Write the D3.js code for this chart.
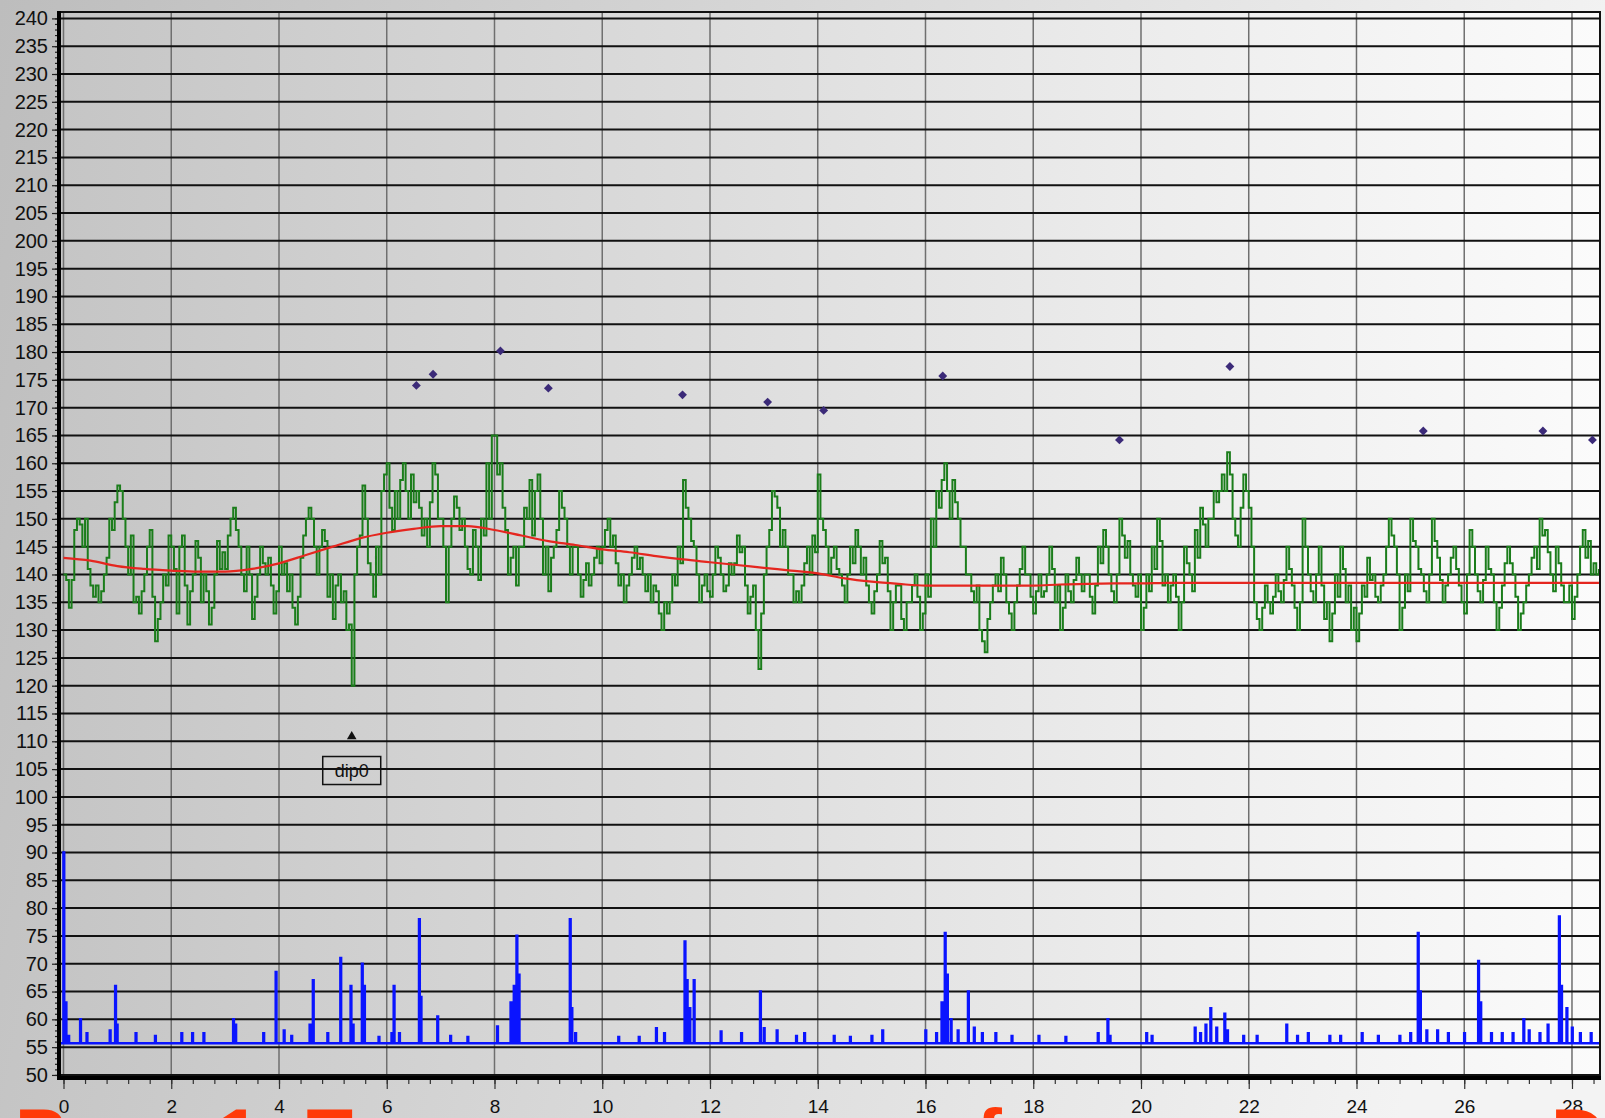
<!DOCTYPE html>
<html>
<head>
<meta charset="utf-8">
<script src="https://cdn.jsdelivr.net/npm/d3@7"></script>
<style>
  html, body { margin: 0; padding: 0; overflow: hidden; }
  svg { display: block; }
</style>
</head>
<body>
<div id="viz"></div>
<script>
const W = 1605, H = 1118;
const plot = { left: 59, right: 1600, top: 12, bottom: 1078 };

// green series, one value every 0.05 from x = 0
const greenStep = 0.05;
const greenVals = [
  140, 139, 134, 139, 148, 150, 149, 145, 150, 141, 138, 136, 138, 135, 137, 140, 143, 150, 148, 153,
  156, 155, 150, 145, 140, 147, 135, 136, 133, 137, 140, 145, 148, 136, 128, 132, 135, 140, 138, 147,
  145, 141, 133, 145, 147, 138, 131, 137, 140, 146, 143, 135, 140, 137, 131, 134, 140, 146, 141, 144,
  141, 147, 150, 152, 148, 145, 140, 137, 145, 140, 132, 136, 140, 145, 142, 140, 143, 138, 133, 137,
  145, 140, 142, 137, 140, 134, 131, 136, 143, 147, 150, 152, 150, 145, 140, 145, 148, 146, 136, 140,
  132, 138, 140, 135, 137, 130, 131, 120, 140, 145, 147, 156, 150, 142, 140, 136, 145, 140, 155, 158,
  160, 152, 148, 155, 150, 157, 160, 155, 150, 158, 153, 155, 152, 147, 150, 145, 153, 160, 158, 150,
  150, 145, 135, 145, 150, 154, 152, 148, 150, 145, 141, 140, 148, 145, 139, 150, 147, 160, 150, 165,
  165, 158, 160, 152, 148, 140, 143, 145, 138, 145, 145, 152, 150, 157, 147, 155, 158, 150, 140, 145,
  137, 143, 145, 148, 155, 152, 150, 145, 140, 145, 145, 140, 136, 139, 142, 138, 140, 143, 145, 142,
  145, 148, 150, 145, 147, 142, 138, 140, 135, 138, 140, 143, 145, 141, 143, 140, 137, 140, 135, 138,
  137, 133, 130, 135, 133, 135, 140, 138, 145, 142, 157, 152, 150, 146, 145, 140, 135, 138, 140, 137,
  136, 140, 145, 143, 140, 137, 138, 142, 140, 142, 147, 144, 145, 138, 133, 136, 138, 130, 123, 133,
  140, 145, 148, 155, 154, 152, 145, 148, 145, 140, 140, 135, 137, 135, 138, 142, 145, 140, 147, 144,
  158, 150, 148, 145, 140, 143, 145, 141, 140, 138, 135, 140, 145, 142, 148, 145, 140, 143, 138, 135,
  133, 137, 140, 146, 142, 143, 137, 130, 135, 138, 138, 132, 130, 135, 135, 138, 140, 136, 130, 133,
  140, 136, 150, 145, 155, 152, 157, 160, 155, 150, 157, 153, 150, 145, 145, 140, 140, 137, 135, 138,
  130, 128, 126, 132, 135, 138, 140, 137, 143, 140, 135, 133, 130, 135, 138, 141, 145, 140, 140, 136,
  133, 137, 140, 136, 137, 140, 145, 141, 135, 138, 130, 134, 140, 137, 135, 139, 143, 140, 137, 140,
  140, 136, 133, 138, 145, 142, 148, 145, 140, 137, 135, 140, 150, 147, 143, 146, 140, 138, 136, 140,
  130, 134, 140, 137, 145, 141, 150, 146, 138, 140, 135, 138, 140, 136, 130, 135, 145, 142, 140, 137,
  148, 143, 152, 149, 145, 150, 150, 155, 153, 155, 158, 155, 162, 158, 150, 147, 145, 152, 158, 155,
  152, 145, 135, 132, 130, 134, 138, 135, 133, 136, 140, 137, 135, 139, 145, 141, 138, 134, 130, 135,
  150, 145, 140, 137, 135, 140, 145, 138, 132, 135, 128, 133, 140, 136, 145, 141, 135, 138, 130, 134,
  128, 133, 138, 136, 143, 139, 140, 136, 135, 138, 140, 145, 150, 147, 145, 140, 130, 134, 140, 137,
  150, 146, 145, 141, 140, 137, 135, 140, 150, 146, 143, 139, 135, 138, 140, 143, 145, 141, 138, 135,
  133, 140, 148, 145, 140, 137, 135, 139, 145, 141, 140, 135, 130, 134, 138, 142, 145, 142, 140, 136,
  130, 133, 135, 138, 140, 143, 145, 141, 150, 147, 148, 144, 140, 137, 145, 142, 138, 135, 135, 138,
  132, 136, 140, 145, 148, 143, 146, 140, 142, 140, 141
];

// red smooth trend, one value every 0.5
const redStep = 0.5;
const redVals = [
  143, 142.5, 141.5, 141, 140.7, 140.5, 140.5, 141, 142, 143.5,
  145, 146.5, 147.5, 148.2, 148.7, 148.7, 148, 147, 146, 145.3,
  144.5, 144, 143.3, 142.7, 142.2, 141.7, 141.2, 140.7, 140.2, 139.3,
  138.7, 138.3, 138, 138, 138, 138, 138, 138.2, 138.3, 138.4,
  138.4, 138.5, 138.5, 138.5, 138.5, 138.5, 138.5, 138.5, 138.5, 138.5,
  138.5, 138.5, 138.5, 138.5, 138.5, 138.5, 138.5, 138.5
];

// blue series: base level plus spikes [x, peak]
const blueBase = 55.7;
const blueSpikes = [
  [0.0, 90], [0.04, 63], [0.09, 57], [0.31, 60], [0.43, 57.5], [0.86, 58], [0.96, 66], [0.99, 59],
  [1.34, 57.5], [1.7, 57], [2.19, 57.5], [2.39, 57.5], [2.6, 57.5], [3.15, 60], [3.19, 59],
  [3.71, 57.5], [3.94, 68.5], [4.09, 58], [4.23, 57], [4.57, 59], [4.63, 67], [4.9, 57.5],
  [5.14, 71], [5.33, 66], [5.37, 59], [5.54, 70], [5.58, 66], [5.85, 56.8], [6.09, 57.5],
  [6.13, 66], [6.23, 57.5], [6.6, 78], [6.63, 64], [6.94, 60.5], [7.18, 57], [7.5, 56.8],
  [8.05, 58.7], [8.3, 63], [8.36, 66], [8.41, 75], [8.45, 68], [9.4, 78], [9.43, 62], [9.5, 57.5],
  [10.3, 56.8], [10.68, 56.8], [11.0, 58.4], [11.15, 57.5], [11.53, 74], [11.57, 67], [11.62, 62],
  [11.7, 67], [12.2, 57.8], [12.58, 57.5], [12.93, 65], [13.0, 58.4], [13.24, 58], [13.6, 57],
  [13.75, 57.5], [14.3, 57], [14.6, 56.8], [15.0, 57], [15.2, 58], [16.0, 58], [16.2, 57.5],
  [16.3, 63], [16.36, 75.5], [16.4, 68], [16.47, 60], [16.6, 58], [16.79, 65], [16.9, 58.5],
  [17.05, 57.5], [17.3, 57.5], [17.6, 57], [18.1, 57], [18.6, 56.8], [19.2, 57.5], [19.38, 60],
  [19.42, 57], [20.1, 57.5], [20.2, 57], [21.0, 58.5], [21.1, 57.5], [21.2, 59], [21.29, 62],
  [21.4, 58.5], [21.55, 61], [21.6, 58], [21.9, 57], [22.15, 57], [22.7, 59], [22.9, 57],
  [23.1, 57.5], [23.5, 57], [23.7, 57], [24.1, 57.5], [24.4, 57], [24.8, 57], [25.0, 57.5],
  [25.14, 75.5], [25.18, 65], [25.3, 58], [25.5, 58], [25.7, 57.5], [26.0, 57.5], [26.26, 70.5],
  [26.3, 63], [26.5, 57.5], [26.7, 57.5], [26.9, 57.5], [27.1, 60], [27.2, 58], [27.4, 57.5],
  [27.55, 59], [27.76, 78.5], [27.8, 66], [27.9, 62], [28.0, 58.5], [28.15, 57.5], [28.35, 57.5]
];

// purple markers
const markX = [6.55, 6.86, 8.11, 9.0, 11.49, 13.07, 14.11, 16.32, 19.6, 21.65, 25.24, 27.46, 28.38];
const markY = [174, 176, 180.2, 173.5, 172.3, 171, 169.5, 175.7, 164.2, 177.4, 165.8, 165.8, 164.2];

// annotation
const dipX = 5.35, dipY = 110.5, dipLabel = 'dip0';

const yTicks = d3.range(50, 241, 5);
const xTicks = d3.range(0, 29, 2);
const titleText = 'Page 1: Two reruns over a few more warm Days';

const x = d3.scaleLinear().domain([-0.0835, 28.52]).range([plot.left, plot.right]);
const y = d3.scaleLinear().domain([49.45, 241.15]).range([plot.bottom, plot.top]);

const svg = d3.select('#viz').append('svg')
  .attr('width', W)
  .attr('height', H)
  .style('font-family', 'Liberation Sans, Arial, sans-serif');

const defs = svg.append('defs');
const pageGrad = defs.append('linearGradient').attr('id', 'pageGrad')
  .attr('x1', '0').attr('y1', '0').attr('x2', '1').attr('y2', '0.15');
pageGrad.append('stop').attr('offset', '0').attr('stop-color', '#bdbdbd');
pageGrad.append('stop').attr('offset', '1').attr('stop-color', '#f3f3f3');
const plotGrad = defs.append('linearGradient').attr('id', 'plotGrad')
  .attr('x1', '0').attr('y1', '0').attr('x2', '1').attr('y2', '0');
plotGrad.append('stop').attr('offset', '0').attr('stop-color', '#c5c5c5');
plotGrad.append('stop').attr('offset', '0.7').attr('stop-color', '#ececec');
plotGrad.append('stop').attr('offset', '1').attr('stop-color', '#fbfbfb');
defs.append('clipPath').attr('id', 'clip').append('rect')
  .attr('x', plot.left).attr('y', plot.top)
  .attr('width', plot.right - plot.left).attr('height', plot.bottom - plot.top);

svg.append('rect').attr('width', W).attr('height', H).attr('fill', 'url(#pageGrad)');
svg.append('rect')
  .attr('x', plot.left).attr('y', plot.top)
  .attr('width', plot.right - plot.left).attr('height', plot.bottom - plot.top)
  .attr('fill', 'url(#plotGrad)');

// grid
svg.append('g').selectAll('line').data(xTicks).join('line')
  .attr('x1', d => x(d)).attr('x2', d => x(d))
  .attr('y1', plot.top).attr('y2', plot.bottom)
  .attr('stroke', '#6f6f6f').attr('stroke-width', 1.5);
svg.append('g').selectAll('line').data(yTicks).join('line')
  .attr('x1', plot.left).attr('x2', plot.right)
  .attr('y1', d => y(d)).attr('y2', d => y(d))
  .attr('stroke', '#111').attr('stroke-width', 2);

const data = svg.append('g').attr('clip-path', 'url(#clip)');

// blue
const bluePts = [[x.domain()[0], blueBase]];
blueSpikes.forEach(s => {
  bluePts.push([s[0], blueBase], [s[0], s[1]], [s[0] + 0.012, s[1]], [s[0] + 0.012, blueBase]);
});
bluePts.push([x.domain()[1], blueBase]);
data.append('path')
  .attr('d', d3.line().x(d => x(d[0])).y(d => y(d[1]))(bluePts))
  .attr('fill', 'none').attr('stroke', '#0a14ff').attr('stroke-width', 2.6);

// green
const greenPts = greenVals.map((v, i) => [i * greenStep, v]);
data.append('path')
  .attr('d', d3.line().curve(d3.curveStepAfter).x(d => x(d[0])).y(d => y(d[1]))(greenPts))
  .attr('fill', 'none').attr('stroke', '#1b7d1b').attr('stroke-width', 2);

// red
const redPts = redVals.map((v, i) => [i * redStep, v]);
data.append('path')
  .attr('d', d3.line().curve(d3.curveMonotoneX).x(d => x(d[0])).y(d => y(d[1]))(redPts))
  .attr('fill', 'none').attr('stroke', '#e5261f').attr('stroke-width', 2.2);

// purple diamonds
data.append('g').selectAll('path').data(markX).join('path')
  .attr('transform', (d, i) => 'translate(' + x(d) + ',' + y(markY[i]) + ')')
  .attr('d', d3.symbol(d3.symbolDiamond2, 50))
  .attr('fill', '#3b2a78');

// dip annotation
data.append('path')
  .attr('transform', 'translate(' + x(dipX) + ',' + (y(dipY) - 2) + ')')
  .attr('d', d3.symbol(d3.symbolTriangle, 40))
  .attr('fill', '#111');
const lab = svg.append('g').attr('transform', 'translate(' + x(dipX) + ',' + (y(dipY) + 32) + ')');
lab.append('rect').attr('x', -29).attr('y', -14).attr('width', 58).attr('height', 28)
  .attr('fill', 'none').attr('stroke', '#111').attr('stroke-width', 1.5);
lab.append('text').attr('text-anchor', 'middle').attr('dy', '0.35em')
  .attr('font-size', 18).attr('fill', '#111').text(dipLabel);

// frame
svg.append('rect')
  .attr('x', plot.left).attr('y', plot.top)
  .attr('width', plot.right - plot.left).attr('height', plot.bottom - plot.top)
  .attr('fill', 'none').attr('stroke', '#111').attr('stroke-width', 2);

// y axis
const yMinor = svg.append('g').attr('transform', 'translate(' + plot.left + ',0)')
  .call(d3.axisLeft(y).tickValues(d3.range(50, 241, 1)).tickSize(4).tickFormat(''));
const yAxis = svg.append('g').attr('transform', 'translate(' + plot.left + ',0)')
  .call(d3.axisLeft(y).tickValues(yTicks).tickSize(7).tickPadding(4));
[yMinor, yAxis].forEach(g => {
  g.select('.domain').remove();
  g.selectAll('line').attr('stroke', '#222').attr('stroke-width', 1.2);
});
yAxis.selectAll('text').attr('font-size', 20).attr('fill', '#111').attr('font-family', 'Liberation Sans, Arial, sans-serif');
svg.append('line').attr('x1', plot.left).attr('x2', plot.left)
  .attr('y1', plot.top - 1).attr('y2', plot.bottom + 2)
  .attr('stroke', '#000').attr('stroke-width', 4);

// x axis
const xMinor = svg.append('g').attr('transform', 'translate(0,' + plot.bottom + ')')
  .call(d3.axisBottom(x).tickValues(d3.range(0, 28.6, 0.4)).tickSize(6).tickFormat(''));
const xAxis = svg.append('g').attr('transform', 'translate(0,' + plot.bottom + ')')
  .call(d3.axisBottom(x).tickValues(xTicks).tickSize(11).tickPadding(11));
[xMinor, xAxis].forEach(g => {
  g.select('.domain').remove();
  g.selectAll('line').attr('stroke', '#333').attr('stroke-width', 1.2);
});
xAxis.selectAll('text').attr('font-size', 19).attr('fill', '#111').attr('font-family', 'Liberation Sans, Arial, sans-serif');
svg.append('line').attr('x1', plot.left - 2).attr('x2', plot.right + 1)
  .attr('y1', plot.bottom).attr('y2', plot.bottom)
  .attr('stroke', '#000').attr('stroke-width', 4);

// big title, cut by the bottom edge
svg.append('text')
  .attr('x', 15).attr('y', 1162)
  .attr('font-size', 76).attr('font-weight', 'bold')
  .attr('fill', '#ff3a0a')
  .attr('font-family', 'Liberation Sans, Arial, sans-serif')
  .text(titleText);
</script>
</body>
</html>
